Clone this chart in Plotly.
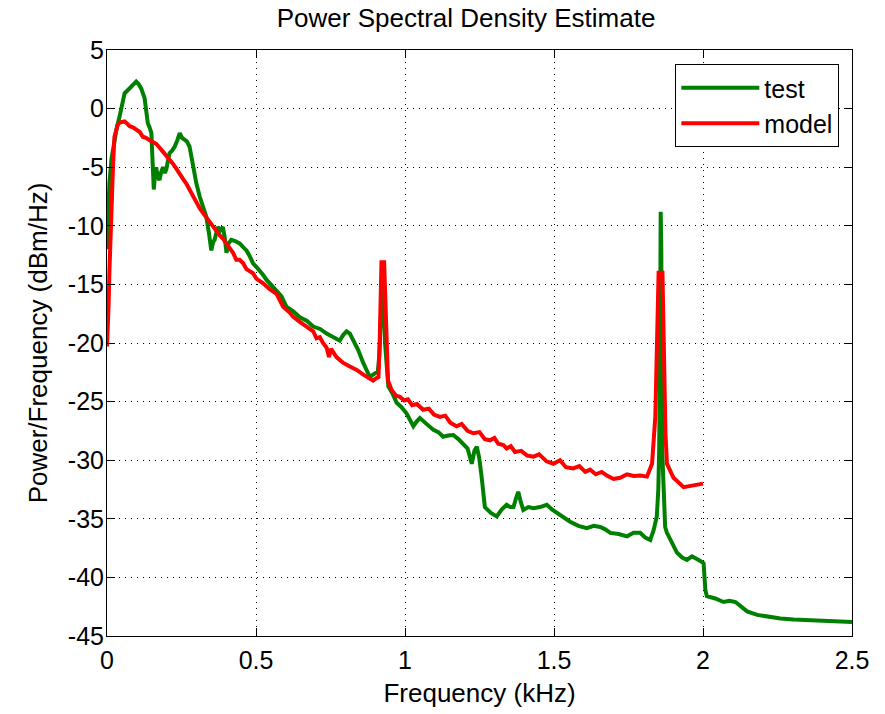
import plotly.graph_objects as go

title_text = "Power Spectral Density Estimate"
x_label = "Frequency (kHz)"
y_label = "Power/Frequency (dBm/Hz)"
x_ticks = [0, 0.5, 1, 1.5, 2, 2.5]
x_tick_labels = ["0", "0.5", "1", "1.5", "2", "2.5"]
y_ticks = [5, 0, -5, -10, -15, -20, -25, -30, -35, -40, -45]
y_tick_labels = ["5", "0", "-5", "-10", "-15", "-20", "-25", "-30", "-35", "-40", "-45"]

test_freq = [0.000, 0.003, 0.008, 0.015, 0.025, 0.033, 0.042, 0.050, 0.059, 0.067,
             0.076, 0.087, 0.098, 0.106, 0.115, 0.126, 0.137, 0.143, 0.149, 0.152,
             0.154, 0.157, 0.160, 0.165, 0.170, 0.176, 0.182, 0.188, 0.194, 0.199,
             0.205, 0.210, 0.218, 0.227, 0.236, 0.244, 0.252, 0.260, 0.268, 0.277,
             0.288, 0.300, 0.311, 0.322, 0.333, 0.342, 0.350, 0.356, 0.361, 0.367,
             0.372, 0.380, 0.389, 0.395, 0.401, 0.408, 0.417, 0.430, 0.445, 0.456,
             0.468, 0.479, 0.490, 0.501, 0.512, 0.524, 0.535, 0.552, 0.569, 0.585,
             0.602, 0.625, 0.647, 0.670, 0.692, 0.715, 0.737, 0.759, 0.781, 0.793,
             0.804, 0.815, 0.826, 0.843, 0.860, 0.871, 0.882, 0.899, 0.909, 0.914,
             0.918, 0.923, 0.928, 0.933, 0.944, 0.958, 0.972, 0.989, 1.005, 1.017,
             1.028, 1.039, 1.050, 1.072, 1.095, 1.112, 1.128, 1.145, 1.162, 1.179,
             1.196, 1.210, 1.224, 1.233, 1.241, 1.249, 1.257, 1.263, 1.268, 1.288,
             1.308, 1.325, 1.341, 1.353, 1.364, 1.372, 1.380, 1.389, 1.397, 1.414,
             1.431, 1.453, 1.476, 1.493, 1.509, 1.532, 1.554, 1.582, 1.610, 1.633,
             1.655, 1.672, 1.689, 1.717, 1.745, 1.767, 1.789, 1.806, 1.823, 1.834,
             1.845, 1.850, 1.853, 1.856, 1.858, 1.860, 1.863, 1.867, 1.873, 1.879,
             1.896, 1.913, 1.930, 1.946, 1.963, 1.980, 1.991, 2.002, 2.008, 2.013,
             2.041, 2.069, 2.089, 2.109, 2.128, 2.148, 2.182, 2.215, 2.260, 2.304,
             2.343, 2.383, 2.436, 2.489, 2.500]
test_psd = [-12.0, -9.5, -6.4, -4.3, -2.7, -1.6, -0.7, 0.4, 1.3, 1.5,
            1.7, 2.0, 2.3, 2.1, 1.7, 0.9, -1.25, -1.6, -2.1, -4.0,
            -5.5, -6.9, -6.0, -5.0, -5.8, -6.1, -5.4, -5.0, -5.5, -5.2,
            -4.4, -3.8, -3.6, -3.25, -2.7, -2.1, -2.5, -2.7, -2.8, -3.25,
            -5.0, -6.4, -7.5, -8.3, -9.2, -10.6, -12.1, -11.4, -11.2, -10.6,
            -10.1, -10.4, -10.1, -11.0, -12.3, -11.5, -11.2, -11.3, -11.5, -11.8,
            -12.1, -12.6, -13.2, -13.5, -13.8, -14.2, -14.6, -15.1, -15.5, -16.0,
            -16.9, -17.3, -17.8, -18.1, -18.6, -18.8, -19.2, -19.5, -19.8, -19.3,
            -19.0, -19.2, -19.7, -20.6, -21.7, -22.4, -22.9, -22.6, -22.4, -21.0,
            -17.5, -15.2, -16.0, -20.0, -23.7, -24.3, -25.1, -25.5, -26.0, -26.6,
            -27.1, -26.7, -26.4, -26.9, -27.4, -27.6, -28.0, -27.9, -27.85, -28.2,
            -28.6, -29.0, -30.3, -29.2, -28.85, -29.8, -31.4, -32.8, -34.0, -34.5,
            -34.8, -34.2, -33.8, -34.0, -34.0, -33.3, -32.7, -33.6, -34.25, -34.0,
            -34.1, -34.0, -33.8, -34.2, -34.5, -34.9, -35.25, -35.6, -35.8, -35.6,
            -35.7, -35.9, -36.2, -36.3, -36.5, -36.2, -36.2, -36.6, -36.8, -36.0,
            -34.8, -32.5, -29.1, -20.0, -8.8, -12.0, -29.1, -33.0, -35.7, -36.2,
            -37.1, -37.9, -38.3, -38.5, -38.2, -38.4, -38.6, -38.8, -41.1, -41.6,
            -41.8, -42.1, -42.0, -42.1, -42.5, -42.9, -43.2, -43.35, -43.5, -43.6,
            -43.65, -43.7, -43.75, -43.8, -43.8]

model_freq = [0.000, 0.002, 0.005, 0.008, 0.012, 0.014, 0.017, 0.020, 0.025, 0.030,
              0.036, 0.042, 0.059, 0.068, 0.076, 0.087, 0.098, 0.110, 0.120, 0.131,
              0.143, 0.154, 0.165, 0.182, 0.199, 0.210, 0.221, 0.232, 0.244, 0.255,
              0.266, 0.277, 0.288, 0.300, 0.311, 0.322, 0.333, 0.344, 0.355, 0.367,
              0.378, 0.389, 0.400, 0.412, 0.423, 0.434, 0.445, 0.457, 0.468, 0.490,
              0.501, 0.524, 0.546, 0.569, 0.580, 0.591, 0.613, 0.624, 0.647, 0.669,
              0.692, 0.703, 0.714, 0.725, 0.737, 0.745, 0.752, 0.770, 0.793, 0.815,
              0.838, 0.860, 0.871, 0.893, 0.904, 0.911, 0.915, 0.921, 0.930, 0.936,
              0.943, 0.955, 0.970, 0.983, 0.997, 1.010, 1.024, 1.040, 1.061, 1.080,
              1.097, 1.117, 1.135, 1.152, 1.173, 1.190, 1.210, 1.229, 1.250, 1.268,
              1.285, 1.300, 1.313, 1.330, 1.341, 1.355, 1.369, 1.390, 1.410, 1.431,
              1.450, 1.475, 1.498, 1.520, 1.540, 1.565, 1.585, 1.605, 1.621, 1.640,
              1.660, 1.677, 1.700, 1.722, 1.745, 1.767, 1.790, 1.812, 1.829, 1.840,
              1.846, 1.851, 1.864, 1.869, 1.874, 1.879, 1.901, 1.935, 1.969, 2.000]
model_psd = [-20.3, -19.5, -17.0, -14.0, -10.5, -8.4, -6.0, -5.0, -2.4, -1.8,
             -1.4, -1.2, -1.1, -1.3, -1.5, -1.6, -1.8, -2.0, -2.4, -2.5,
             -2.7, -2.9, -3.0, -3.5, -4.0, -4.3, -4.7, -5.1, -5.5, -6.0,
             -6.4, -6.9, -7.5, -8.1, -8.5, -8.9, -9.3, -9.65, -10.0, -10.4,
             -10.8, -11.1, -11.5, -11.8, -12.3, -12.9, -12.9, -13.2, -13.7, -14.05,
             -14.5, -14.9, -15.4, -15.8, -16.3, -16.9, -17.4, -17.75, -18.2, -18.6,
             -19.0, -19.6, -19.5, -20.0, -20.4, -21.2, -20.5, -21.2, -21.7, -22.0,
             -22.3, -22.7, -22.9, -23.2, -23.0, -22.9, -20.0, -13.1, -13.1, -19.2,
             -23.2, -24.0, -24.5, -24.6, -24.9, -24.8, -25.3, -25.2, -25.7, -25.6,
             -26.1, -26.3, -26.2, -26.8, -27.1, -26.9, -27.5, -27.7, -27.6, -28.2,
             -28.3, -28.1, -28.6, -28.7, -29.0, -28.8, -29.3, -29.2, -29.6, -29.7,
             -29.5, -30.1, -30.3, -30.0, -30.6, -30.7, -30.5, -31.0, -30.8, -31.2,
             -31.0, -31.3, -31.6, -31.5, -31.2, -31.35, -31.3, -31.4, -30.3, -26.3,
             -20.0, -14.0, -14.0, -22.0, -27.7, -30.3, -31.5, -32.3, -32.1, -32.0]

fig = go.Figure()
fig.add_trace(go.Scatter(x=test_freq, y=test_psd, mode="lines", name="test",
                         line=dict(color="#008000", width=4)))
fig.add_trace(go.Scatter(x=model_freq, y=model_psd, mode="lines", name="model",
                         line=dict(color="#ff0000", width=4)))

axis_common = dict(showline=True, linecolor="black", linewidth=1, mirror="ticks",
                   ticks="inside", ticklen=8, tickcolor="black", tickwidth=1,
                   showgrid=True, gridcolor="black", gridwidth=1, griddash="1px,5px",
                   zeroline=False, tickfont=dict(size=25, color="black"),
                   title_font=dict(size=26, color="black"))

fig.update_xaxes(range=[0, 2.5], tickvals=x_ticks, ticktext=x_tick_labels,
                 title_text=x_label, title_standoff=10, ticklabelstandoff=2,
                 **axis_common)
fig.update_yaxes(range=[-45, 5], tickvals=y_ticks, ticktext=y_tick_labels,
                 title_text=y_label, title_standoff=12, ticklabelstandoff=-3,
                 **axis_common)

fig.update_layout(
    width=885, height=714,
    margin=dict(l=107, r=33, t=50, b=78),
    plot_bgcolor="white", paper_bgcolor="white",
    font=dict(family="Liberation Sans, Arial, sans-serif", color="black"),
    title=dict(text=title_text, x=0.482, xref="paper", xanchor="center",
               y=0.975, yref="container", yanchor="middle",
               font=dict(size=26, color="black")),
    legend=dict(x=0.983, y=0.976, xanchor="right", yanchor="top",
                bgcolor="white", bordercolor="black", borderwidth=1,
                font=dict(size=25, color="black"), itemwidth=78),
    showlegend=True,
)

fig.write_html("out.html")
